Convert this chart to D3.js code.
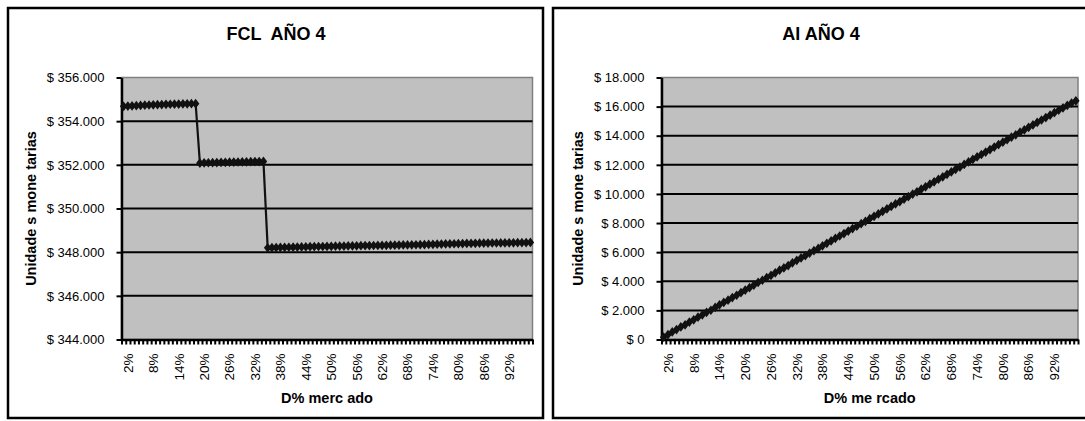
<!DOCTYPE html>
<html>
<head>
<meta charset="utf-8">
<script src="https://cdn.jsdelivr.net/npm/d3@7"></script>
<style>
body { margin: 0; background: #fff; }
svg { display: block; font-family: "Liberation Sans", Arial, sans-serif; }
</style>
</head>
<body>
<svg width="1085" height="421"></svg>
<script>
// market share categories (percent)
var categories = [1,2,3,4,5,6,7,8,9,10,11,12,13,14,15,16,17,18,19,20,
    21,22,23,24,25,26,27,28,29,30,31,32,33,34,35,36,37,38,39,40,
    41,42,43,44,45,46,47,48,49,50,51,52,53,54,55,56,57,58,59,60,
    61,62,63,64,65,66,67,68,69,70,71,72,73,74,75,76,77,78,79,80,
    81,82,83,84,85,86,87,88,89,90,91,92,93,94,95,96,97];

var tickLabels = [2,8,14,20,26,32,38,44,50,56,62,68,74,80,86,92];

var fclValues = [
    354680, 354690, 354700, 354710, 354720, 354730, 354740, 354750, 354755, 354760,
    354770, 354775, 354780, 354785, 354790, 354795, 354800, 354800,
    352080, 352090, 352095, 352100, 352105, 352110, 352115, 352120, 352125, 352130,
    352135, 352140, 352145, 352150, 352150, 352155,
    348200, 348205, 348210, 348215, 348220, 348225, 348230, 348235, 348240, 348245,
    348250, 348255, 348260, 348260, 348265, 348270, 348275, 348280, 348280, 348285,
    348290, 348290, 348295, 348300, 348300, 348305, 348310, 348310, 348315, 348320,
    348320, 348325, 348330, 348330, 348335, 348340, 348345, 348350, 348355, 348360,
    348365, 348370, 348375, 348380, 348385, 348390, 348395, 348400, 348400, 348405,
    348410, 348410, 348415, 348420, 348420, 348425, 348425, 348430, 348430, 348435,
    348435, 348440, 348445];

var aiValues = [
    160, 330, 520, 680, 860, 1010, 1200, 1350, 1530, 1690,
    1870, 2010, 2200, 2380, 2550, 2700, 2880, 3040, 3220, 3400,
    3560, 3730, 3920, 4070, 4250, 4400, 4580, 4760, 4920, 5080,
    5270, 5430, 5600, 5760, 5940, 6100, 6260, 6440, 6610, 6770,
    6950, 7110, 7280, 7450, 7620, 7780, 7960, 8120, 8300, 8460,
    8630, 8800, 8970, 9140, 9310, 9470, 9650, 9810, 9990, 10150,
    10330, 10490, 10670, 10830, 11010, 11170, 11350, 11510, 11690, 11850,
    12030, 12200, 12370, 12540, 12710, 12880, 13050, 13220, 13390, 13560,
    13730, 13900, 14060, 14240, 14400, 14580, 14740, 14910, 15080, 15250,
    15410, 15580, 15750, 15910, 16080, 16240, 16400];

var fclTicks = [344000, 346000, 348000, 350000, 352000, 354000, 356000];
var aiTicks = [0, 2000, 4000, 6000, 8000, 10000, 12000, 14000, 16000, 18000];

var svg = d3.select("svg");

var money = d3.formatLocale({decimal: ",", thousands: ".", grouping: [3], currency: ["$ ", ""]}).format("$,.0f");

// diamond marker like excel, a bit taller than wide
var diamond = {
    draw: function(ctx, size) {
        var r = Math.sqrt(size) / 2;
        ctx.moveTo(0, -r * 1.3);
        ctx.lineTo(r, 0);
        ctx.lineTo(0, r * 1.3);
        ctx.lineTo(-r, 0);
        ctx.closePath();
    }
};

function drawChart(cfg) {
    var g = svg.append("g");

    // outer frame
    g.append("rect")
        .attr("x", cfg.frame[0]).attr("y", cfg.frame[1])
        .attr("width", cfg.frame[2] - cfg.frame[0])
        .attr("height", cfg.frame[3] - cfg.frame[1])
        .attr("fill", "#fff")
        .attr("stroke", "#000")
        .attr("stroke-width", 2.5);

    var x = d3.scaleBand()
        .domain(categories)
        .range([cfg.plot[0], cfg.plot[2]]);

    var xb = d3.scaleLinear()
        .domain([0, categories.length])
        .range([cfg.plot[0], cfg.plot[2]]);

    var y = d3.scaleLinear()
        .domain([cfg.ticks[0], cfg.ticks[cfg.ticks.length - 1]])
        .range([cfg.plot[3], cfg.plot[1]]);

    // plot area
    g.append("rect")
        .attr("x", cfg.plot[0]).attr("y", cfg.plot[1])
        .attr("width", cfg.plot[2] - cfg.plot[0])
        .attr("height", cfg.plot[3] - cfg.plot[1])
        .attr("fill", "#c0c0c0")
        .attr("stroke", "#808080")
        .attr("stroke-width", 1.5);

    g.selectAll(".grid")
        .data(cfg.ticks.slice(1, -1))
        .enter().append("line")
        .attr("x1", cfg.plot[0]).attr("x2", cfg.plot[2])
        .attr("y1", function(d) { return y(d); })
        .attr("y2", function(d) { return y(d); })
        .attr("stroke", "#000")
        .attr("stroke-width", 2);

    // y axis
    var ya = g.append("g")
        .attr("transform", "translate(" + cfg.plot[0] + ",0)")
        .call(d3.axisLeft(y).tickValues(cfg.ticks).tickSize(5).tickSizeOuter(0).tickPadding(12).tickFormat(money));
    ya.select(".domain").attr("stroke", "#000").attr("stroke-width", 2.5);
    ya.selectAll(".tick line").attr("stroke", "#000").attr("stroke-width", 2);
    ya.selectAll("text").attr("font-size", "13px").attr("fill", "#000").attr("font-family", null);

    // x axis tick marks between categories
    var xt = g.append("g")
        .attr("transform", "translate(0," + cfg.plot[3] + ")")
        .call(d3.axisBottom(xb).tickValues(d3.range(0, categories.length + 1)).tickSize(5).tickSizeOuter(0).tickFormat(""));
    xt.select(".domain").attr("stroke", "#000").attr("stroke-width", 2.5);
    xt.selectAll(".tick line").attr("stroke", "#000").attr("stroke-width", 2);

    // x labels, rotated
    var xl = g.append("g")
        .attr("transform", "translate(0," + cfg.plot[3] + ")")
        .call(d3.axisBottom(x).tickValues(tickLabels).tickSize(0).tickFormat(function(d) { return d + "%"; }));
    xl.select(".domain").remove();
    xl.selectAll("text")
        .attr("font-size", "13.5px")
        .attr("font-family", null)
        .attr("fill", "#000")
        .attr("transform", "rotate(-90)")
        .attr("text-anchor", "end")
        .attr("x", -14)
        .attr("y", 0)
        .attr("dy", "0.36em");

    // series
    var pts = categories.map(function(c, i) { return {c: c, v: cfg.values[i]}; });
    var line = d3.line()
        .x(function(d) { return x(d.c) + x.bandwidth() / 2; })
        .y(function(d) { return y(d.v); });

    g.append("path")
        .datum(pts)
        .attr("d", line)
        .attr("fill", "none")
        .attr("stroke", "#111")
        .attr("stroke-width", 2.2);

    g.selectAll(".mk")
        .data(pts)
        .enter().append("path")
        .attr("transform", function(d) { return "translate(" + (x(d.c) + x.bandwidth() / 2) + "," + y(d.v) + ")"; })
        .attr("d", d3.symbol().type(diamond).size(56))
        .attr("fill", "#111");

    // titles
    g.append("text")
        .attr("x", cfg.titleX).attr("y", 40)
        .attr("text-anchor", "middle")
        .attr("font-size", "18px")
        .attr("font-weight", "bold")
        .style("white-space", "pre")
        .text(cfg.title);

    g.append("text")
        .attr("transform", "translate(" + cfg.yTitleX + "," + ((cfg.plot[1] + cfg.plot[3]) / 2) + ") rotate(-90)")
        .attr("text-anchor", "middle")
        .attr("font-size", "14.5px")
        .attr("font-weight", "bold")
        .style("white-space", "pre")
        .text("Unidade s mone tarias");

    g.append("text")
        .attr("x", (cfg.plot[0] + cfg.plot[2]) / 2).attr("y", 403)
        .attr("text-anchor", "middle")
        .attr("font-size", "14.5px")
        .attr("font-weight", "bold")
        .text(cfg.xTitle);
}

drawChart({
    frame: [8, 8, 543, 418],
    plot: [121.5, 77.5, 532.5, 339.5],
    ticks: fclTicks,
    values: fclValues,
    title: "FCL  AÑO 4",
    titleX: 276,
    yTitleX: 36,
    xTitle: "D% merc ado"
});

drawChart({
    frame: [553, 8, 1092, 418],
    plot: [661.5, 77.5, 1078, 339.5],
    ticks: aiTicks,
    values: aiValues,
    title: "AI AÑO 4",
    titleX: 821,
    yTitleX: 583,
    xTitle: "D% me rcado"
});
</script>
</body>
</html>
